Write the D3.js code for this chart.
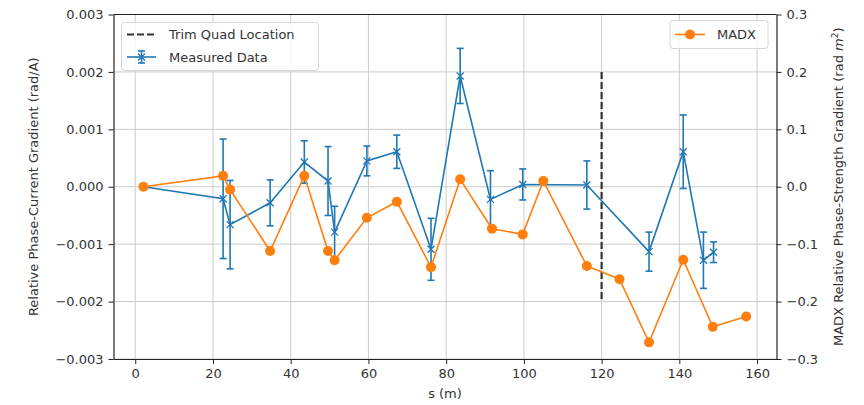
<!DOCTYPE html>
<html>
<head>
<meta charset="utf-8">
<script src="https://cdn.jsdelivr.net/npm/d3@7"></script>
<style>
  html, body { margin: 0; padding: 0; background: #fff; }
  svg { display: block; font-family: "DejaVu Sans", sans-serif; }
</style>
</head>
<body>
<svg id="chart" width="864" height="405"></svg>
<script>
// Measured phase-current gradient (left axis, rad/A) with error bars
const measS   = [2.1, 22.6, 24.4, 34.7, 43.5, 49.6, 51.3, 59.6, 67.3, 76.1, 83.6, 91.4, 99.7, 116.2, 132.2, 141.0, 146.2, 148.8];
const measVal = [0.0, -0.00021, -0.00066, -0.00028, 0.00043, 0.0001, -0.00079, 0.00045, 0.00061, -0.00109, 0.00193, -0.00022, 0.00004, 0.00003, -0.00113, 0.00061, -0.00128, -0.00114];
const measErr = [0.0, 0.00104, 0.00077, 0.0004, 0.00037, 0.0006, 0.00045, 0.00026, 0.00029, 0.00054, 0.00048, 0.0005, 0.00027, 0.00042, 0.00034, 0.00064, 0.00049, 0.00018];

// MADX phase-strength gradient (right axis, rad m^2)
const madxS   = [2.1, 22.6, 24.4, 34.7, 43.5, 49.6, 51.3, 59.6, 67.3, 76.1, 83.6, 91.8, 99.7, 105.0, 116.2, 124.6, 132.2, 141.0, 148.6, 157.2];
const madxVal = [0.0, 0.019, -0.005, -0.112, 0.019, -0.112, -0.128, -0.054, -0.026, -0.140, 0.013, -0.073, -0.083, 0.010, -0.138, -0.161, -0.271, -0.127, -0.244, -0.226];

// Trim quadrupole position and the span of its marker line (left-axis units)
const trimS = 120;
const trimSpan = [-0.002, 0.002];

const xTicks  = [0, 20, 40, 60, 80, 100, 120, 140, 160];
const yTicks  = [-0.003, -0.002, -0.001, 0, 0.001, 0.002, 0.003];
const y2Ticks = [-0.3, -0.2, -0.1, 0, 0.1, 0.2, 0.3];

const BLUE = "#1f77b4", ORANGE = "#ff7f0e", TEXT = "#333";
const plotL = 113.5, plotR = 776.5, plotT = 14.5, plotB = 359;

const svg = d3.select("#chart");
const x  = d3.scaleLinear().domain([-5.6, 165]).range([plotL, plotR]);
const y  = d3.scaleLinear().domain([-0.003, 0.003]).range([plotB, plotT]);
const y2 = d3.scaleLinear().domain([-0.3, 0.3]).range([plotB, plotT]);

const fmtMinus = s => s.replace("-", "\u2212");

// grid
const grid = svg.append("g").attr("stroke", "#cbcbcb").attr("stroke-width", 1);
xTicks.forEach(t => grid.append("line").attr("x1", x(t)).attr("x2", x(t)).attr("y1", plotT).attr("y2", plotB));
yTicks.forEach(t => grid.append("line").attr("x1", plotL).attr("x2", plotR).attr("y1", y(t)).attr("y2", y(t)));

// axes
function styleAxis(g) {
  g.selectAll("path").attr("stroke", "#222").attr("stroke-width", 1.2);
  g.selectAll("line").attr("stroke", "#222").attr("stroke-width", 1);
  g.selectAll("text").attr("fill", TEXT).style("font-size", "13px").style("font-family", "DejaVu Sans");
}
svg.append("g").attr("transform", `translate(0,${plotB})`)
  .call(d3.axisBottom(x).tickValues(xTicks).tickSize(5).tickPadding(5).tickSizeOuter(0).tickFormat(d3.format("d")))
  .call(styleAxis);
svg.append("g").attr("transform", `translate(${plotL},0)`)
  .call(d3.axisLeft(y).tickValues(yTicks).tickSize(5).tickPadding(5).tickSizeOuter(0).tickFormat(d => fmtMinus(d3.format(".3f")(d))))
  .call(styleAxis);
svg.append("g").attr("transform", `translate(${plotR},0)`)
  .call(d3.axisRight(y2).tickValues(y2Ticks).tickSize(5).tickPadding(5).tickSizeOuter(0).tickFormat(d => fmtMinus(d3.format(".1f")(d))))
  .call(styleAxis);
// top spine
svg.append("line").attr("x1", plotL).attr("x2", plotR).attr("y1", plotT).attr("y2", plotT)
  .attr("stroke", "#222").attr("stroke-width", 1.2);

// axis labels
svg.append("text").attr("x", (plotL + plotR) / 2).attr("y", 398).attr("text-anchor", "middle")
  .attr("fill", TEXT).style("font-size", "13px").text("s (m)");
svg.append("text").attr("transform", `translate(38,${(plotT + plotB) / 2}) rotate(-90)`)
  .attr("text-anchor", "middle").attr("fill", TEXT).style("font-size", "13px")
  .text("Relative Phase-Current Gradient (rad/A)");
const r2 = svg.append("text").attr("transform", `translate(843,${(plotT + plotB) / 2}) rotate(-90)`)
  .attr("text-anchor", "middle").attr("fill", TEXT).style("font-size", "13px");
r2.append("tspan").text("MADX Relative Phase-Strength Gradient (rad ");
r2.append("tspan").style("font-style", "italic").text("m");
r2.append("tspan").attr("dy", -5).style("font-size", "9px").text("2");
r2.append("tspan").attr("dy", 5).text(")");

// trim quad location
svg.append("line").attr("x1", x(trimS)).attr("x2", x(trimS))
  .attr("y1", y(trimSpan[1])).attr("y2", y(trimSpan[0]))
  .attr("stroke", "#333").attr("stroke-width", 2.2).attr("stroke-dasharray", "7,3");

// measured data with error bars
const meas = measS.map((s, i) => ({ s, v: measVal[i], e: measErr[i] }));
const mg = svg.append("g");
mg.append("path").datum(meas)
  .attr("d", d3.line().x(d => x(d.s)).y(d => y(d.v)))
  .attr("fill", "none").attr("stroke", BLUE).attr("stroke-width", 1.6);
const eb = mg.selectAll("g.eb").data(meas.filter(d => d.e > 0)).join("g").attr("stroke", BLUE).attr("stroke-width", 1.6);
eb.append("line").attr("x1", d => x(d.s)).attr("x2", d => x(d.s)).attr("y1", d => y(d.v - d.e)).attr("y2", d => y(d.v + d.e));
eb.append("line").attr("x1", d => x(d.s) - 3.5).attr("x2", d => x(d.s) + 3.5).attr("y1", d => y(d.v + d.e)).attr("y2", d => y(d.v + d.e));
eb.append("line").attr("x1", d => x(d.s) - 3.5).attr("x2", d => x(d.s) + 3.5).attr("y1", d => y(d.v - d.e)).attr("y2", d => y(d.v - d.e));
const xm = 3.5;
mg.selectAll("path.xm").data(meas).join("path").attr("class", "xm")
  .attr("d", d => `M${x(d.s) - xm},${y(d.v) - xm}L${x(d.s) + xm},${y(d.v) + xm}M${x(d.s) - xm},${y(d.v) + xm}L${x(d.s) + xm},${y(d.v) - xm}`)
  .attr("stroke", BLUE).attr("stroke-width", 1.3).attr("fill", "none");

// MADX curve
const madx = madxS.map((s, i) => ({ s, v: madxVal[i] }));
svg.append("path").datum(madx)
  .attr("d", d3.line().x(d => x(d.s)).y(d => y2(d.v)))
  .attr("fill", "none").attr("stroke", ORANGE).attr("stroke-width", 1.6);
svg.selectAll("circle.mx").data(madx).join("circle").attr("class", "mx")
  .attr("cx", d => x(d.s)).attr("cy", d => y2(d.v)).attr("r", 5).attr("fill", ORANGE);

// legends
function legendBox(x0, y0, w, h) {
  svg.append("rect").attr("x", x0).attr("y", y0).attr("width", w).attr("height", h).attr("rx", 3)
    .attr("fill", "rgba(255,255,255,0.85)").attr("stroke", "#d6d6d6").attr("stroke-width", 1);
}
legendBox(121.5, 22.5, 197, 48);
svg.append("line").attr("x1", 127).attr("x2", 156).attr("y1", 34.5).attr("y2", 34.5)
  .attr("stroke", "#333").attr("stroke-width", 2.2).attr("stroke-dasharray", "7,3");
svg.append("text").attr("x", 169).attr("y", 34.5).attr("dy", "0.35em").attr("fill", TEXT).style("font-size", "13px").text("Trim Quad Location");
const lg = svg.append("g").attr("stroke", BLUE).attr("stroke-width", 1.6);
lg.append("line").attr("x1", 127).attr("x2", 156).attr("y1", 57).attr("y2", 57);
lg.append("line").attr("x1", 141.5).attr("x2", 141.5).attr("y1", 51).attr("y2", 63);
lg.append("line").attr("x1", 138).attr("x2", 145).attr("y1", 51).attr("y2", 51);
lg.append("line").attr("x1", 138).attr("x2", 145).attr("y1", 63).attr("y2", 63);
lg.append("path").attr("d", `M${141.5 - xm},${57 - xm}L${141.5 + xm},${57 + xm}M${141.5 - xm},${57 + xm}L${141.5 + xm},${57 - xm}`).attr("stroke-width", 1.3);
svg.append("text").attr("x", 169).attr("y", 57).attr("dy", "0.35em").attr("fill", TEXT).style("font-size", "13px").text("Measured Data");

legendBox(670, 20.5, 98, 28);
svg.append("line").attr("x1", 675).attr("x2", 705).attr("y1", 34.5).attr("y2", 34.5).attr("stroke", ORANGE).attr("stroke-width", 1.6);
svg.append("circle").attr("cx", 690).attr("cy", 34.5).attr("r", 5).attr("fill", ORANGE);
svg.append("text").attr("x", 717).attr("y", 34.5).attr("dy", "0.35em").attr("fill", TEXT).style("font-size", "13px").text("MADX");
</script>
</body>
</html>
